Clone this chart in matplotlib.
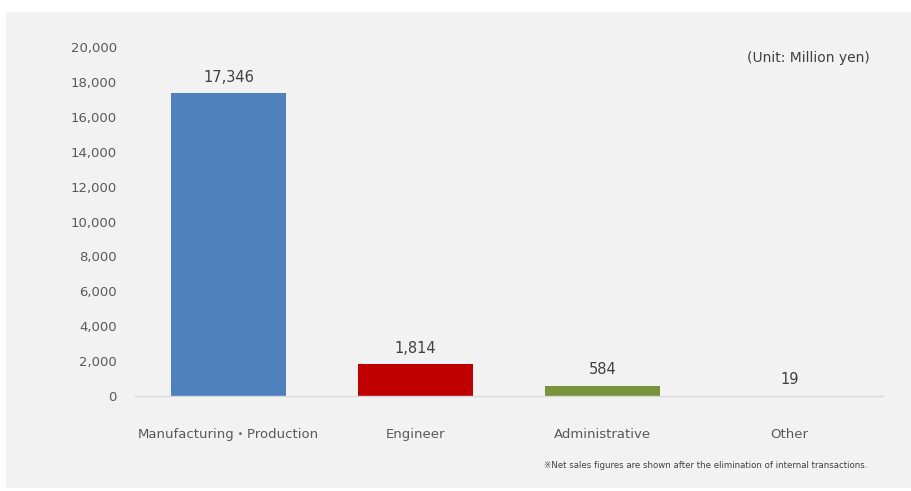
import matplotlib
matplotlib.use("Agg")
import matplotlib.pyplot as plt
from matplotlib.patches import Rectangle

categories = ["Manufacturing・Production", "Engineer", "Administrative", "Other"]
values = [17346, 1814, 584, 19]
colors = ["#4f81bd", "#c00000", "#77933c", "#a5a5a5"]
yticks = [0, 2000, 4000, 6000, 8000, 10000, 12000, 14000, 16000, 18000, 20000]

plt.rcParams['font.family'] = ['DejaVu Sans', 'Noto Sans CJK JP']

fig = plt.figure(figsize=(9.12, 4.91), dpi=100)
fig.patch.set_facecolor("white")
fig.patches.append(Rectangle((6/912, 1 - 488/491), 1 - 6/912, (488 - 12)/491,
                             transform=fig.transFigure, facecolor="#f2f2f2",
                             edgecolor="none", zorder=-5))

ax = fig.add_axes([135/912, 1 - 396/491, (883 - 135)/912, (396 - 47)/491])
ax.set_zorder(2)
ax.set_facecolor("none")
x = list(range(len(categories)))
bars = ax.bar(x, values, width=0.62, color=colors, zorder=2)
for xi, v in zip(x, values):
    ax.text(xi, v + 500, f"{v:,}", ha="center", va="bottom", fontsize=10.5, color="#404040")

ax.set_xlim(-0.5, 3.5)
ax.set_ylim(0, 20000)
ax.set_yticks(yticks)
ax.set_yticklabels([f"{t:,}" for t in yticks], fontsize=9.5, color="#595959")
ax.set_xticks(x)
ax.set_xticklabels(categories, fontsize=9.5, color="#595959")
ax.tick_params(axis="both", length=0)
ax.tick_params(axis="y", pad=13)
ax.tick_params(axis="x", pad=23)
for s in ["top", "right", "left"]:
    ax.spines[s].set_visible(False)
ax.spines["bottom"].set_color("#d9d9d9")
ax.spines["bottom"].set_linewidth(1.0)

fig.text(870/912, 1 - 58/491, "(Unit: Million yen)", ha="right", va="center",
         fontsize=10, color="#404040", zorder=3)
fig.text(867/912, 1 - 466/491, "※Net sales figures are shown after the elimination of internal transactions.",
         ha="right", va="center", fontsize=6.2, color="#404040", zorder=3)

fig.savefig("out.png", dpi=100)
